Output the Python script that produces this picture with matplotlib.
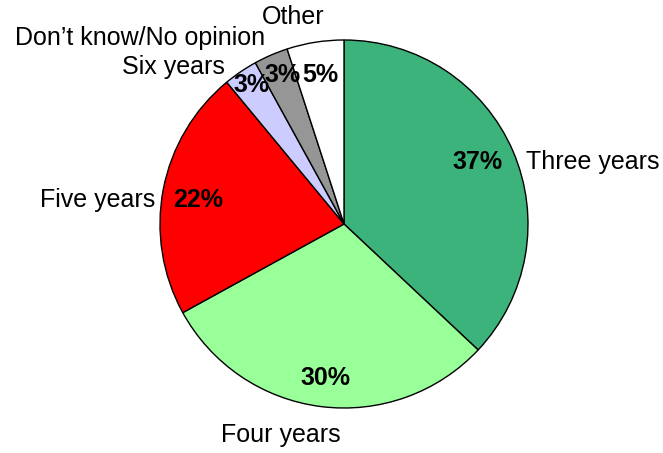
import matplotlib
matplotlib.use("Agg")
import matplotlib.pyplot as plt

categories = ["Three years", "Four years", "Five years", "Six years",
              "Don\u2019t know/No opinion", "Other"]
values = [37, 30, 22, 3, 3, 5]
colors = ["#3CB37A", "#99FF99", "#FF0000", "#CCCCFF", "#969696", "#FFFFFF"]

plt.rcParams['font.family'] = ['Liberation Sans', 'DejaVu Sans']

W, H = 663, 453
fig = plt.figure(figsize=(W / 100, H / 100), dpi=100)
ax = fig.add_axes([0, 0, 1, 1])

cx, cy, R = 344, H - 224, 184
wedges, _ = ax.pie(values, colors=colors, startangle=90, counterclock=False,
                   radius=R, center=(cx, cy),
                   wedgeprops=dict(edgecolor="black", linewidth=1.0))
ax.set_xlim(0, W)
ax.set_ylim(0, H)
ax.set_aspect('auto')
ax.axis('off')

# label anchor offsets from pie centre (pixels), alignment
label_pos = [(182, 62, 'left'), (-63, -211, 'center'), (-189, 24, 'right'),
             (-119, 157, 'right'), (-79, 186, 'right'), (-51, 207, 'center')]
pct_pos = [(134, 62), (-19, -154), (-146, 24), (-92, 139), (-61, 149), (-24, 149)]

for cat, v, (dx, dy, ha), (px, py) in zip(categories, values, label_pos, pct_pos):
    ax.text(cx + dx, cy + dy, cat, ha=ha, va='center', fontsize=18)
    ax.text(cx + px, cy + py, f"{v}%", ha='center', va='center',
            fontsize=18, fontweight='bold')

fig.savefig("out.png", dpi=100)
